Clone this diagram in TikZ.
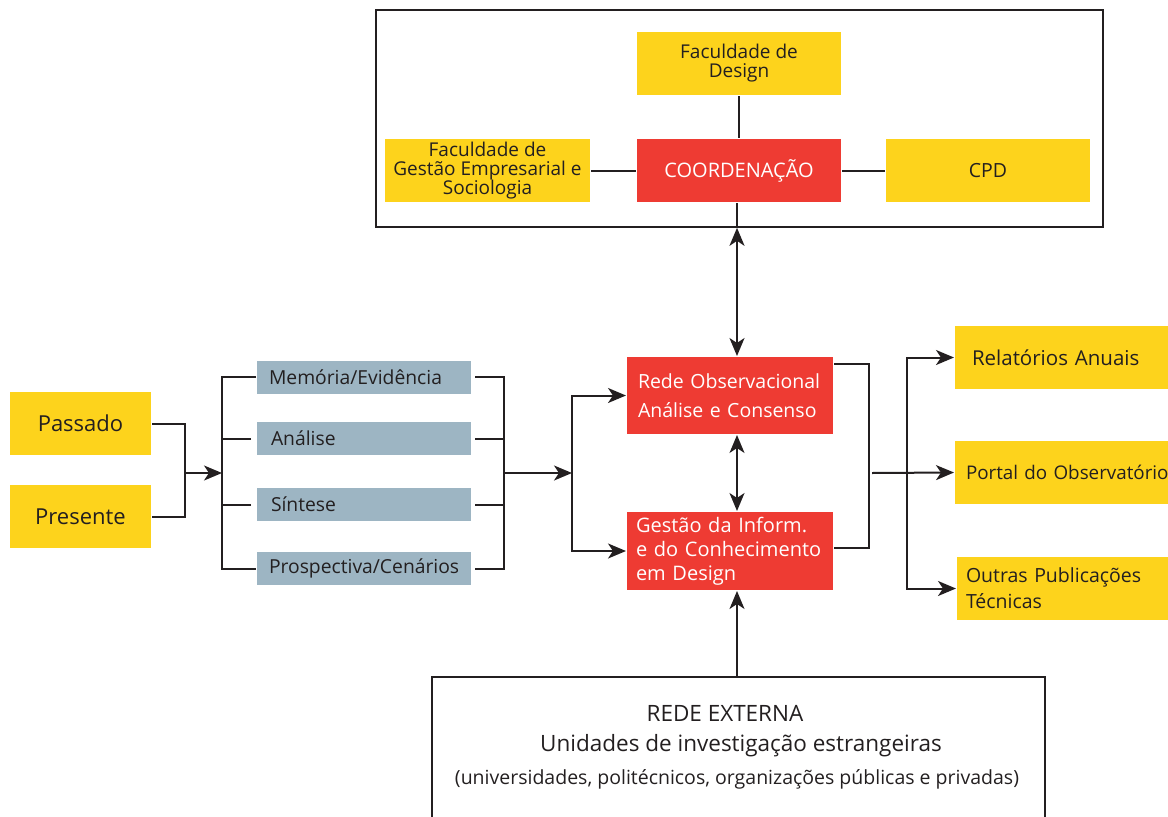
\documentclass[tikz,border=0pt]{standalone}
\usepackage{fontspec}
\setmainfont{Open Sans}
\usetikzlibrary{arrows.meta,calc}
\definecolor{ylw}{HTML}{FDD31C}
\definecolor{rd}{HTML}{EE3B33}
\definecolor{gry}{HTML}{9DB5C3}
\definecolor{ink}{HTML}{231F20}
\begin{document}
\begin{tikzpicture}[x=1pt,y=-1pt,line width=2pt,
  every node/.style={inner sep=0pt,text=ink},
  ctrbox/.style={align=center,minimum width=#1},
  ybox/.style={fill=ylw,minimum height=63pt},
  rbox/.style={fill=rd,text=white},
  gbox/.style={fill=gry,minimum height=33pt,text width=190pt,inner xsep=12pt,align=left,
    font=\fontsize{19.3}{22}\selectfont},
  lbox/.style={fill=ylw,minimum height=63pt,align=left},
  frame/.style={draw=ink,line width=1.6pt},
  arr/.style={-{Stealth[length=18pt,width=15pt,inset=5pt]}},
  darr/.style={{Stealth[length=18pt,width=15pt,inset=5pt]}-{Stealth[length=18pt,width=15pt,inset=5pt]}},
  txtA/.style={font=\fontsize{19}{19}\selectfont},
  txtB/.style={font=\fontsize{22}{24}\selectfont}]
\useasboundingbox (0,0) rectangle (1168,817);

% --- coordination block ---
\node[frame,minimum width=727pt,minimum height=217pt] (core) at (739.5,118.5) {};
\node[ybox,ctrbox=204pt,txtA] (fd) at (739,63.5) {Faculdade de\\Design};
\node[ybox,ctrbox=205pt,txtA] (fg) at (487.5,170.5) {Faculdade de\\Gestão Empresarial e\\Sociologia};
\node[ybox,rbox,ctrbox=204pt,minimum height=63pt,font=\fontsize{20}{22}\selectfont] (coord) at (739,170.5) {COORDENAÇÃO};
\node[ybox,ctrbox=204pt,font=\fontsize{19.5}{22}\selectfont] (cpd) at (988,170.5) {CPD};
\draw[ink] (fd.south -| coord) -- (coord.north);
\draw[ink] (fg.east) -- (coord.west);
\draw[ink] (coord.east) -- (cpd.west);
\draw[ink] ($(coord.south)+(-2,0)$) -- ($(core.south -| coord.south)+(-2,0)$);
\coordinate (ax) at (737,0);

% --- time inputs ---
\node[ybox,ctrbox=141pt,txtB] (pas) at (80.5,423.5) {Passado};
\node[ybox,ctrbox=141pt,txtB] (pre) at (80.5,516.5) {Presente};
\coordinate (j1) at (185,473);
\coordinate (b1) at (222,473);
\draw[ink] (pas.east) -| (j1) |- (pre.east);
\draw[ink,arr] (j1) -- (b1);

% --- methods ---
\node[gbox] (memo) at (364,377) {Memória/Evidência};
\node[gbox] (anal) at (364,438.5) {\hspace*{2pt}Análise};
\node[gbox] (sint) at (364,504.5) {\hspace*{2pt}Síntese};
\node[gbox] (prosp) at (364,568.5) {Prospectiva/Cenários};
\draw[ink] (memo.west) -| (b1) |- (prosp.west);
\draw[ink] ($(anal.west)+(-5,0)$) -- (anal.west -| b1);
\draw[ink] ($(sint.west)+(-5,0)$) -- (sint.west -| b1);
\coordinate (b2) at (504,473);
\coordinate (b3) at (572,473);
\draw[ink] ($(memo.east)+(3,0)$) -| (b2) |- ($(prosp.east)+(3,0)$);
\draw[ink] ($(anal.east)+(3,0)$) -- (anal.east -| b2);
\draw[ink] ($(sint.east)+(3,0)$) -- (sint.east -| b2);
\draw[ink,arr] (b2) -- (b3);

% --- observatory core ---
\node[rbox,minimum width=206pt,minimum height=77pt,text width=184pt,align=left,
  font=\fontsize{19.5}{29}\selectfont] (rede) at (730,395.5)
  {Rede Observacional\\Análise e Consenso};
\node[rbox,minimum width=206pt,minimum height=78pt,text width=188pt,align=left,
  font=\fontsize{20}{24}\selectfont] (gest) at (730,551)
  {Gestão da Inform.\\e do Conhecimento\\em Design};
\draw[ink,arr] (b3) |- (rede.west);
\draw[ink,arr] (b3) |- (gest.west);
\draw[ink,darr] (core.south -| ax) -- (rede.north -| ax);
\draw[ink,darr] (rede.south -| ax) -- (gest.north -| ax);

% --- outputs ---
\node[lbox,minimum width=214pt,text width=214pt,font=\fontsize{20.5}{22}\selectfont,
  anchor=west] (rel) at (954,357.5) {\hspace*{17pt}Relatórios Anuais};
\node[lbox,minimum width=214pt,anchor=west,font=\fontsize{18.8}{22}\selectfont,
  text width=214pt] (port) at (954,472.5) {\hspace*{11pt}Portal do Observatório};
\node[lbox,minimum width=212pt,anchor=west,font=\fontsize{19.5}{26}\selectfont,
  text width=212pt] (out) at (956,588.5) {\hspace*{9pt}Outras Publicações\\\hspace*{9pt}Técnicas};
\coordinate (b4) at (869,473);
\coordinate (b5) at (907,473);
\draw[ink] ($(rede.north east)+(0,8)$) -| (b4) |- ($(gest.east)+(0,-3)$);
\draw[ink,arr] ($(b4)+(3,0)$) -- (port.west);
\draw[ink,arr] (b5) |- (rel.west);
\draw[ink,arr] (b5) |- (out.west);

% --- external network ---
\node[minimum width=611pt,minimum height=140pt,anchor=north west] (ext) at (432,677) {};
\draw[ink,line width=1.6pt] (ext.south west) |- (ext.north) -| (ext.south east);
\node[font=\fontsize{22.5}{24}\selectfont] (t1) at (725,713) {REDE EXTERNA};
\node[font=\fontsize{22.5}{24}\selectfont] (t2) at (741,746) {Unidades de investigação estrangeiras};
\node[font=\fontsize{19.5}{22}\selectfont] (t3) at (737,779) {(universidades, politécnicos, organizações públicas e privadas)};
\draw[ink,arr] (ext.north -| ax) -- (gest.south -| ax);
\end{tikzpicture}
\end{document}
